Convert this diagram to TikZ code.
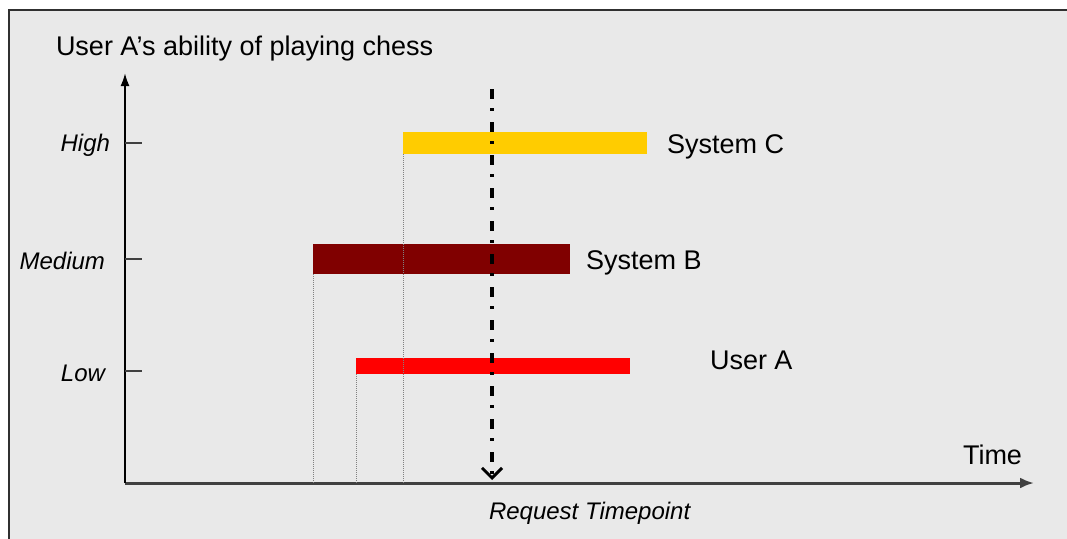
\documentclass[tikz,border=0pt]{standalone}
\usepackage{fontspec}
\setmainfont{Liberation Sans}
\usepackage{tikz}
\usetikzlibrary{positioning, arrows.meta, calc}
\definecolor{framebg}{RGB}{233,233,233}
\definecolor{framedraw}{RGB}{48,48,48}
\definecolor{axisgray}{RGB}{64,64,64}
\definecolor{sysC}{RGB}{255,204,0}
\definecolor{sysB}{RGB}{128,0,0}
\definecolor{userA}{RGB}{255,0,0}

\begin{document}
\begin{tikzpicture}[
  x=1pt, y=-1pt,
  every node/.style={inner sep=0pt, outer sep=0pt},
  big/.style={font=\fontsize{27}{31}\selectfont},
  lvl/.style={font=\fontsize{24}{28}\selectfont\itshape, anchor=east},
  bar/.style={draw=none, anchor=north west, minimum height=#1},
  axis/.style={line width=3pt, color=axisgray, -{Latex[length=14pt,width=11pt]}},
  yaxis/.style={line width=2pt, color=black, -{Latex[length=13pt,width=9pt]}},
  tick/.style={line width=1.6pt, color=axisgray},
  guide/.style={line width=0.8pt, color=gray, dash pattern=on 0.8pt off 1.2pt},
  request/.style={line width=3.5pt, color=black,
    dash pattern=on 10pt off 9pt on 2.5pt off 11.5pt,
    -{Straight Barb[length=10pt,width=20pt,line width=3pt]}},
]
\useasboundingbox (0,0) rectangle (1067,538);

% Frame
\draw[fill=framebg, draw=framedraw, line width=2.2pt] (9,10) rectangle (1100,560);

% Axes
\coordinate (o) at (125,483);
\coordinate (xend) at (1034,483);
\coordinate (yend) at (125,73);
\draw[axis] (o) -- (xend);
\draw[yaxis] (o) -- (yend);
\node[big, anchor=west] (title) at (56,49) {User A’s ability of playing chess};
\node[big, anchor=west] (time) at (963,455) {Time};

% Levels
\coordinate (thigh) at (125,143);
\coordinate (tmed) at (125,259);
\coordinate (tlow) at (125,371);
\node[lvl] (lhigh) at (110,145) {High};
\node[lvl] (lmed) at (105,261) {Medium};
\node[lvl] (llow) at (105,373) {Low};
\draw[tick] (thigh) -- ++(17,0);
\draw[tick] (tmed) -- ++(17,0);
\draw[tick] (tlow) -- ++(17,0);

% Bars
\node[bar=22pt, fill=sysC, minimum width=244pt] (sysc) at (403,132) {};
\node[bar=30pt, fill=sysB, minimum width=257pt] (sysb) at (313,244) {};
\node[bar=16pt, fill=userA, minimum width=274pt] (usera) at (356,358) {};
\node[big, anchor=west] (lsysc) at (667,147) {System C};
\node[big, anchor=west] (lsysb) at (586,263) {System B};
\node[big, anchor=west] (lusera) at (710,360) {User A};

% Start guides
\draw[guide] (sysb.south west) -- (sysb.south west |- o);
\draw[guide] (usera.south west) -- (usera.south west |- o);
\draw[guide] (sysc.south west) -- (sysc.south west |- o);

% Request timepoint
\coordinate (rtop) at (492,89);
\draw[request] (rtop) -- ($(rtop |- o)+(0,-3)$);
\node[lvl, anchor=west] (lreq) at (489,513) {Request Timepoint};

\end{tikzpicture}
\end{document}
